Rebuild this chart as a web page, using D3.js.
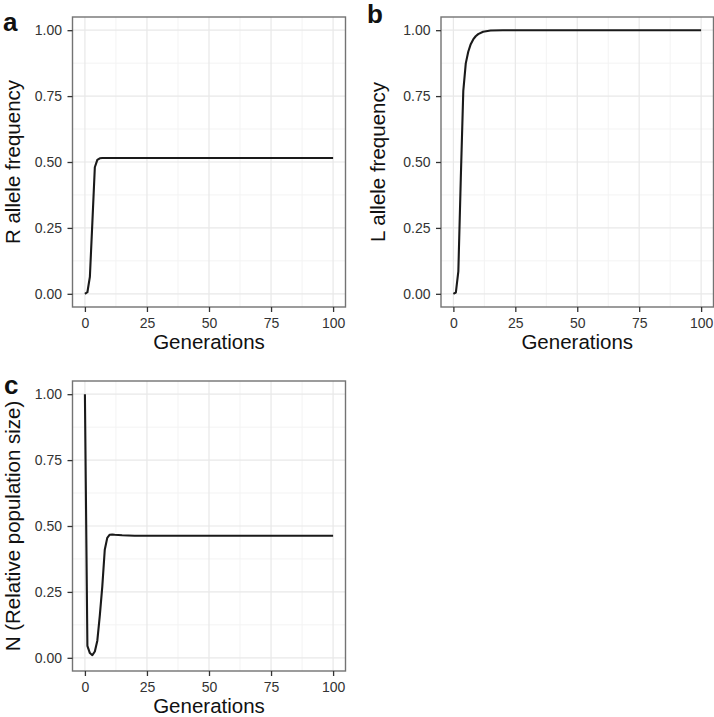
<!DOCTYPE html>
<html>
<head>
<meta charset="utf-8">
<script src="https://cdn.jsdelivr.net/npm/d3@7"></script>
<style>
  body { margin: 0; background: #fff; }
  svg { display: block; }
</style>
</head>
<body>
<div class="chart"></div>
<script>
// generations sampled (plateau kept with sparser points)
var gensA = [0, 1, 2, 3, 4, 5, 6, 7, 8, 10, 15, 20, 30, 40, 50, 60, 70, 80, 90, 100];
var rAllele = [0, 0.006, 0.064, 0.27, 0.48, 0.508, 0.514, 0.515, 0.515, 0.515, 0.515, 0.515, 0.515, 0.515, 0.515, 0.515, 0.515, 0.515, 0.515, 0.515];

var gensB = [0, 1, 2, 3, 4, 5, 6, 7, 8, 9, 10, 12, 15, 20, 30, 40, 50, 60, 70, 80, 90, 100];
var lAllele = [0, 0.005, 0.085, 0.44, 0.77, 0.874, 0.918, 0.947, 0.965, 0.977, 0.985, 0.994, 0.999, 1, 1, 1, 1, 1, 1, 1, 1, 1];

var gensC = [0, 1, 2, 3, 4, 5, 6, 7, 8, 9, 10, 11, 12, 15, 20, 30, 40, 50, 60, 70, 80, 90, 100];
var popN = [1, 0.045, 0.018, 0.01, 0.024, 0.065, 0.16, 0.27, 0.41, 0.455, 0.467, 0.468, 0.467, 0.465, 0.463, 0.463, 0.463, 0.463, 0.463, 0.463, 0.463, 0.463, 0.463];

var xTicks = [0, 25, 50, 75, 100];
var yTicks = [0, 0.25, 0.5, 0.75, 1];
var xMinor = [12.5, 37.5, 62.5, 87.5];
var yMinor = [0.125, 0.375, 0.625, 0.875];

var panels = [
  { tag: "a", title: "R allele frequency", x: gensA, y: rAllele,
    left: 72.5, right: 345.5, top: 17, bottom: 307, tagX: 3, tagY: 31, titleX: 19.5 },
  { tag: "b", title: "L allele frequency", x: gensB, y: lAllele,
    left: 441, right: 713.5, top: 17, bottom: 307, tagX: 367, tagY: 23, titleX: 385 },
  { tag: "c", title: "N (Relative population size)", x: gensC, y: popN,
    left: 72.5, right: 345.5, top: 381, bottom: 671, tagX: 4, tagY: 394, titleX: 19.5 }
];

var svg = d3.select('.chart')
  .append('svg')
  .attr("width", 714)
  .attr("height", 717);

panels.forEach(function (p) {
  var xScale = d3.scaleLinear().domain([-5, 105]).range([p.left, p.right]);
  var yScale = d3.scaleLinear().domain([-0.05, 1.05]).range([p.bottom, p.top]);

  var g = svg.append("g");

  // minor grid
  g.selectAll(".xminor").data(xMinor).enter().append("line")
    .attr("x1", d => xScale(d)).attr("x2", d => xScale(d))
    .attr("y1", p.top).attr("y2", p.bottom)
    .attr("stroke", "#f3f3f3").attr("stroke-width", 1);
  g.selectAll(".yminor").data(yMinor).enter().append("line")
    .attr("y1", d => yScale(d)).attr("y2", d => yScale(d))
    .attr("x1", p.left).attr("x2", p.right)
    .attr("stroke", "#f3f3f3").attr("stroke-width", 1);

  // major grid
  g.selectAll(".xmajor").data(xTicks).enter().append("line")
    .attr("x1", d => xScale(d)).attr("x2", d => xScale(d))
    .attr("y1", p.top).attr("y2", p.bottom)
    .attr("stroke", "#e8e8e8").attr("stroke-width", 1.2);
  g.selectAll(".ymajor").data(yTicks).enter().append("line")
    .attr("y1", d => yScale(d)).attr("y2", d => yScale(d))
    .attr("x1", p.left).attr("x2", p.right)
    .attr("stroke", "#e8e8e8").attr("stroke-width", 1.2);

  var line = d3.line()
    .x(function (d, i) { return xScale(p.x[i]); })
    .y(function (d) { return yScale(d); });

  g.append("path")
    .datum(p.y)
    .attr("d", line)
    .attr("fill", "none")
    .attr("stroke", "#1a1a1a")
    .attr("stroke-width", 2.1)
    .attr("stroke-linejoin", "round");

  // panel border
  g.append("rect")
    .attr("x", p.left).attr("y", p.top)
    .attr("width", p.right - p.left).attr("height", p.bottom - p.top)
    .attr("fill", "none").attr("stroke", "#737373").attr("stroke-width", 1.4);

  var xAxis = g.append("g")
    .attr("transform", "translate(0," + p.bottom + ")")
    .call(d3.axisBottom(xScale).tickValues(xTicks).tickSize(5).tickPadding(6));
  var yAxis = g.append("g")
    .attr("transform", "translate(" + p.left + ",0)")
    .call(d3.axisLeft(yScale).tickValues(yTicks).tickFormat(d3.format(".2f")).tickSize(5).tickPadding(5.5));

  [xAxis, yAxis].forEach(function (ax) {
    ax.select(".domain").remove();
    ax.selectAll(".tick line").attr("stroke", "#333").attr("stroke-width", 1.3);
    ax.selectAll(".tick text")
      .attr("fill", "#333")
      .style("font-family", "'Liberation Sans', Arial, sans-serif")
      .style("font-size", "14px");
  });

  // axis titles
  g.append("text")
    .attr("x", (p.left + p.right) / 2)
    .attr("y", p.bottom + 41.5)
    .attr("text-anchor", "middle")
    .style("font-family", "'Liberation Sans', Arial, sans-serif")
    .style("font-size", "20.5px")
    .attr("fill", "#111")
    .text("Generations");

  g.append("text")
    .attr("transform", "translate(" + p.titleX + "," + ((p.top + p.bottom) / 2) + ") rotate(-90)")
    .attr("text-anchor", "middle")
    .style("font-family", "'Liberation Sans', Arial, sans-serif")
    .style("font-size", "20.5px")
    .attr("fill", "#111")
    .text(p.title);

  // panel tag
  g.append("text")
    .attr("x", p.tagX).attr("y", p.tagY)
    .style("font-family", "'Liberation Sans', Arial, sans-serif")
    .style("font-size", "26px")
    .style("font-weight", "bold")
    .attr("fill", "#111")
    .text(p.tag);
});
</script>
</body>
</html>
